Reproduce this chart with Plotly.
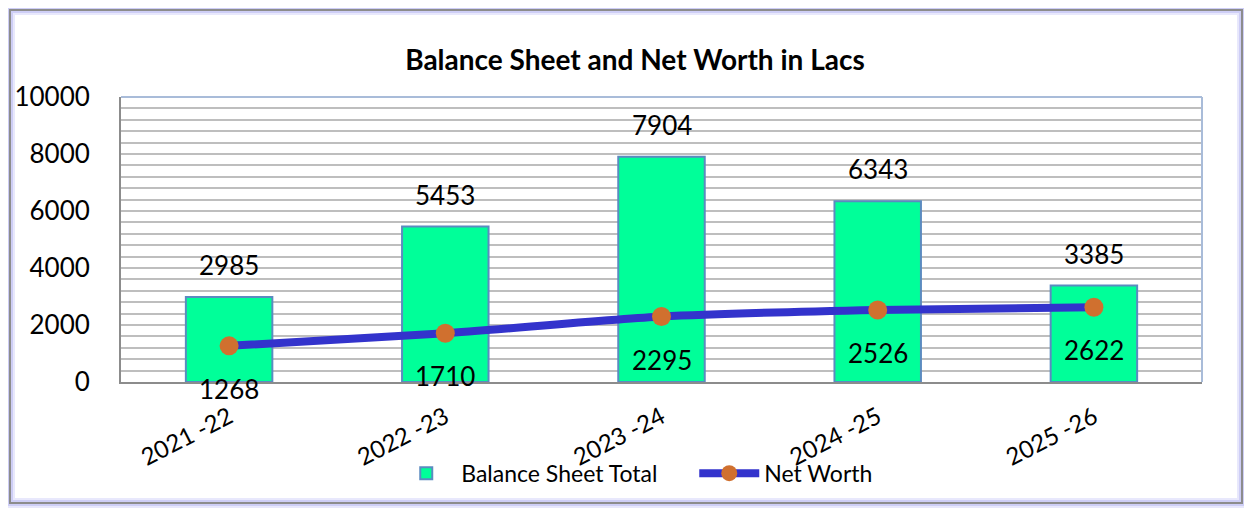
import plotly.graph_objects as go

# Data
years = ['2021 -22', '2022 -23', '2023 -24', '2024 -25', '2025 -26']
balance_sheet = [2985, 5453, 7904, 6343, 3385]
net_worth = [1268, 1710, 2295, 2526, 2622]

font_name = "Lato"
bar_fill = "#00FF99"
bar_edge = "#5B8BC0"
line_color = "#3333CC"
dot_color = "#D0702F"

fig = go.Figure()

fig.add_trace(go.Bar(
    x=years, y=balance_sheet, name='Balance Sheet Total',
    marker=dict(color=bar_fill, line=dict(color=bar_edge, width=2)),
    width=0.4,
))

fig.add_trace(go.Scatter(
    x=years, y=net_worth, name='Net Worth', mode='lines+markers',
    line=dict(color=line_color, width=8, shape='spline', smoothing=0.6),
    marker=dict(color=dot_color, size=19),
))

# data labels
for yr, v in zip(years, balance_sheet):
    fig.add_annotation(x=yr, y=v, text=str(v), showarrow=False, yshift=32,
                       font=dict(size=26, color='black', family=font_name))
for yr, v in zip(years, net_worth):
    fig.add_annotation(x=yr, y=v, text=str(v), showarrow=False, yshift=-43,
                       font=dict(size=26, color='black', family=font_name))

# outer frame with soft shadow
for w, c in [(10, 'rgba(190,190,245,0.35)'), (6, 'rgba(180,180,240,0.5)')]:
    fig.add_shape(type='rect', xref='paper', yref='paper',
                  x0=-0.1027, x1=1.037, y0=-0.4246, y1=1.305,
                  line=dict(color=c, width=w), layer='below')
fig.add_shape(type='rect', xref='paper', yref='paper',
              x0=-0.1027, x1=1.037, y0=-0.4246, y1=1.305,
              line=dict(color='#8C8C8C', width=2))

# plot area borders: light top/right, gray left/bottom
fig.add_shape(type='line', xref='paper', yref='paper', x0=0, x1=1, y0=1, y1=1,
              line=dict(color='#A9BCD9', width=2))
fig.add_shape(type='line', xref='paper', yref='paper', x0=1, x1=1, y0=0, y1=1,
              line=dict(color='#A9BCD9', width=2))

fig.update_yaxes(
    range=[0, 10000], dtick=2000, tick0=0, tickformat='d',
    showgrid=True, gridcolor='#BEBEBE', gridwidth=1.5,
    minor=dict(dtick=400, showgrid=True, gridcolor='#BEBEBE', gridwidth=1.5),
    showline=True, linecolor='#8C8C8C', linewidth=2,
    ticks='', ticklabelstandoff=24, automargin=False,
    tickfont=dict(size=26, color='black', family=font_name),
    zeroline=False,
)
fig.update_xaxes(
    showline=True, linecolor='#8C8C8C', linewidth=2,
    tickangle=-27, ticks='', ticklabelstandoff=10, automargin=False,
    tickfont=dict(size=24, color='black', family=font_name),
)

fig.update_layout(
    width=1244, height=509,
    margin=dict(l=113, r=50, t=89, b=135),
    paper_bgcolor='white', plot_bgcolor='white',
    title=dict(text='<b>Balance Sheet and Net Worth in Lacs</b>', x=0.504, xanchor='center',
               y=0.898, yanchor='middle', font=dict(size=28, color='black', family=font_name)),
    legend=dict(orientation='h', x=0.25, xanchor='left', y=-0.32, yanchor='middle',
                font=dict(size=23, color='black', family=font_name),
                itemwidth=60, entrywidth=228, bgcolor='rgba(0,0,0,0)'),
    bargap=0.6,
    font=dict(family=font_name),
)

fig.write_html("out.html")
